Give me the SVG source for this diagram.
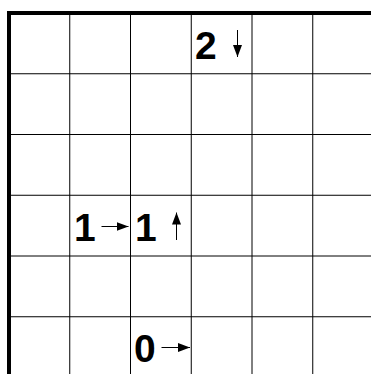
<svg xmlns="http://www.w3.org/2000/svg" width="371" height="374" viewBox="0 0 371 374">
  <defs>
    <marker id="ah" markerUnits="userSpaceOnUse" markerWidth="12" markerHeight="10" refX="12" refY="4.5" orient="auto">
      <path d="M0,0 L12,4.5 L0,9 z" fill="#000"/>
    </marker>
  </defs>
  <style>
    .grid line { stroke: #000; stroke-width: 1; }
    .border { stroke: #000; stroke-width: 4; }
    .num { font-family: "Liberation Sans", Arial, sans-serif; font-weight: bold; font-size: 39px; fill: #000; }
    .arrow { stroke: #000; stroke-width: 1; marker-end: url(#ah); }
  </style>
  <rect x="0" y="0" width="371" height="374" fill="#fff"/>
  <g class="grid">
    <line x1="69.75" y1="13" x2="69.75" y2="374"/>
    <line x1="130.5" y1="13" x2="130.5" y2="374"/>
    <line x1="191.25" y1="13" x2="191.25" y2="374"/>
    <line x1="252" y1="13" x2="252" y2="374"/>
    <line x1="312.75" y1="13" x2="312.75" y2="374"/>
    <line x1="9" y1="73.75" x2="371" y2="73.75"/>
    <line x1="9" y1="134.5" x2="371" y2="134.5"/>
    <line x1="9" y1="195.25" x2="371" y2="195.25"/>
    <line x1="9" y1="256" x2="371" y2="256"/>
    <line x1="9" y1="316.75" x2="371" y2="316.75"/>
  </g>
  <line class="border" x1="9" y1="11" x2="9" y2="374"/>
  <line class="border" x1="7" y1="13" x2="371" y2="13"/>
  <g id="cell-2"><text class="num" x="195" y="59">2</text></g>
  <g id="cell-1a"><text class="num" x="74" y="241">1</text></g>
  <g id="cell-1b"><text class="num" x="135" y="241">1</text></g>
  <g id="cell-0"><text class="num" x="134" y="362">0</text></g>
  <g id="connectors">
    <line class="arrow" x1="237.5" y1="30" x2="237.5" y2="57"/>
    <line class="arrow" x1="101.5" y1="226.5" x2="128.5" y2="226.5"/>
    <line class="arrow" x1="176.5" y1="240" x2="176.5" y2="212.5"/>
    <line class="arrow" x1="161.5" y1="347.5" x2="190" y2="347.5"/>
  </g>
</svg>
